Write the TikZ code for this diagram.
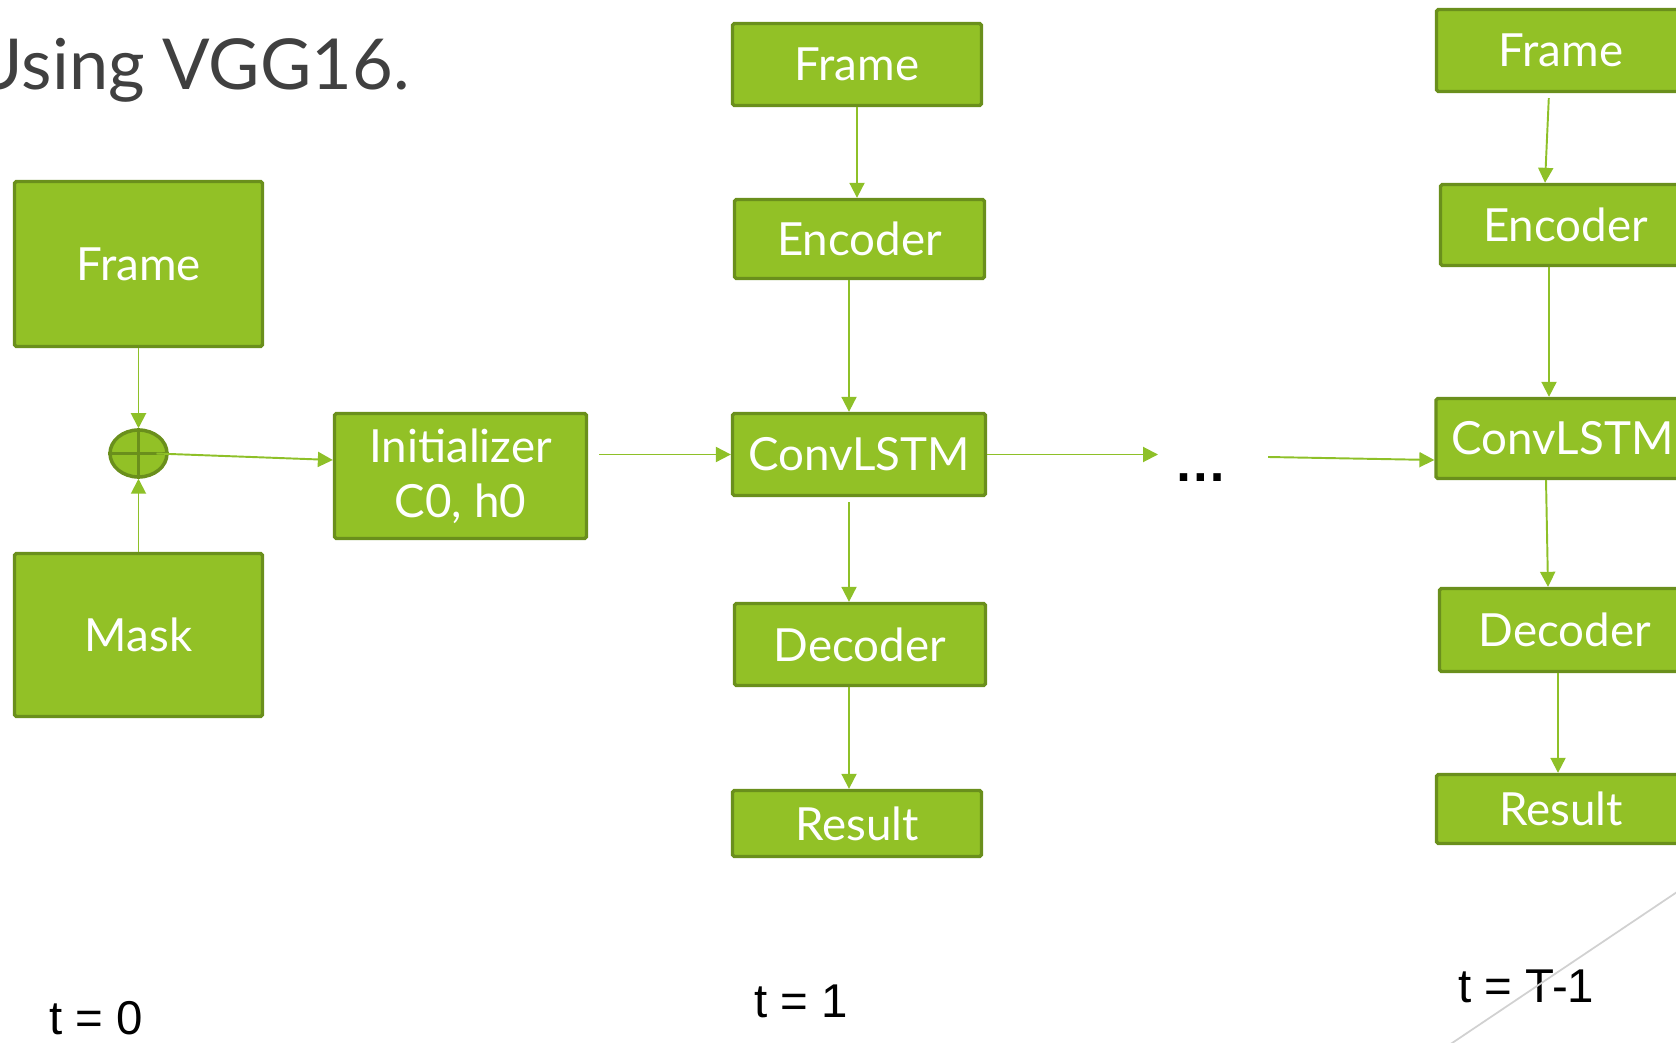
\documentclass[tikz,border=0pt]{standalone}
\usepackage{fontspec}
\setmainfont{Lato}
\newfontfamily\labelfont{Liberation Sans}
\usetikzlibrary{arrows.meta,shapes.geometric}

\definecolor{boxgreen}{RGB}{146,193,38}
\definecolor{boxedge}{RGB}{106,143,28}
\definecolor{flowgreen}{RGB}{142,192,40}
\definecolor{titlegray}{RGB}{64,64,64}

\tikzset{
  block/.style={draw=boxedge,fill=boxgreen,line width=1.9pt,rounded corners=1pt,
    text=white,inner sep=0pt,align=center,font=\fontsize{26}{31.2}\selectfont},
  flow/.style={-{Triangle[length=0.3cm,width=0.3cm]},draw=flowgreen,line width=1.1pt},
  stamp/.style={font=\labelfont\fontsize{27}{32}\selectfont,anchor=base west,inner sep=0pt}
}

\begin{document}
\begin{tikzpicture}[x=0.02cm,y=-0.02cm]
  \useasboundingbox (0,0) rectangle (1676,1043);
  \clip (0,0) rectangle (1676,1043);

  % title, cut by the left edge
  \node[anchor=base east,inner sep=0pt,text=titlegray,font=\fontsize{40}{48}\selectfont] (title) at (410,90) {Using VGG16.};

  % t = 0: frame and mask are merged, then fed to the initializer
  \node[block,minimum width=4.96cm,minimum height=3.30cm] (frame0) at (138.5,264) {Frame};
  \node[block,minimum width=4.96cm,minimum height=3.26cm] (mask) at (138.5,635) {Mask};
  \node[ellipse,draw=boxedge,fill=boxgreen,line width=2pt,minimum width=1.14cm,minimum height=0.94cm,inner sep=0pt] (plus) at (138.5,453.5) {};
  \draw[boxedge,line width=2pt] (plus.north) -- (plus.south) (plus.west) -- (plus.east);
  \node[block,minimum width=5.04cm,minimum height=2.50cm] (init) at (460.5,476) {Initializer\\C0, h0};

  % t = 1
  \node[block,minimum width=4.98cm,minimum height=1.64cm] (frame1) at (857,64.5) {Frame};
  \node[block,minimum width=5.00cm,minimum height=1.58cm] (enc1) at (859.5,239) {Encoder};
  \node[block,minimum width=5.06cm,minimum height=1.64cm] (conv1) at (859,454.5) {ConvLSTM};
  \node[block,minimum width=5.02cm,minimum height=1.64cm] (dec1) at (860,644.5) {Decoder};
  \node[block,minimum width=4.98cm,minimum height=1.32cm] (res1) at (857,823.5) {Result};

  % t = T-1, running off the right edge
  \node[block,minimum width=4.98cm,minimum height=1.64cm] (frameT) at (1561,50.5) {Frame};
  \node[block,minimum width=5.00cm,minimum height=1.62cm] (encT) at (1565.5,225) {Encoder};
  \node[block,minimum width=5.06cm,minimum height=1.60cm] (convT) at (1562.5,438.5) {ConvLSTM};
  \node[block,minimum width=5.02cm,minimum height=1.66cm] (decT) at (1565,630) {Decoder};
  \node[block,minimum width=4.98cm,minimum height=1.38cm] (resT) at (1561,809) {Result};

  \node[font=\labelfont\bfseries\fontsize{30}{36}\selectfont,inner sep=0pt] (dots) at (1201,478) {…};

  \coordinate (initout) at (599,454.5);
  \coordinate (dotsin) at (1158,454.5);
  \coordinate (dotsout) at (1268,457);
  \coordinate (col1) at (849,0);

  % connectors
  \draw[flow] (frame0) -- (plus);
  \draw[flow] (mask) -- (plus);
  \draw[flow] ([xshift=0.36cm]plus.center) -- ([yshift=0.32cm]init.west);
  \draw[flow] (initout) -- (conv1.west);
  \draw[flow] (conv1.east) -- (dotsin);
  \draw[flow] (dotsout) -- ([yshift=-0.43cm]convT.west);

  \draw[flow] (frame1.south) -- (frame1.south |- enc1.north);
  \draw[flow] (enc1.south -| col1) -- (conv1.north -| col1);
  \draw[flow,shorten <=0.1cm] (conv1.south -| col1) -- (dec1.north -| col1);
  \draw[flow] (dec1.south -| col1) -- (res1.north -| col1);

  \draw[flow,shorten <=0.1cm] ([xshift=-0.24cm]frameT.south) -- ([xshift=-0.41cm]encT.north);
  \draw[flow] ([xshift=-0.33cm]encT.south) -- ([xshift=-0.27cm]convT.north);
  \draw[flow] ([xshift=-0.33cm]convT.south) -- ([xshift=-0.34cm]decT.north);
  \draw[flow] ([xshift=-0.14cm]decT.south) -- ([xshift=-0.06cm]resT.north);

  % time steps
  \node[stamp] (t0) at (49,1034) {t = 0};
  \node[stamp] (t1) at (754,1017) {t = 1};
  \node[stamp] (tT) at (1458,1002) {t = T-1};

  % slide decoration in the corner
  \draw[black!18,line width=1pt] (1400,1078) -- (1750,843);
\end{tikzpicture}
\end{document}
